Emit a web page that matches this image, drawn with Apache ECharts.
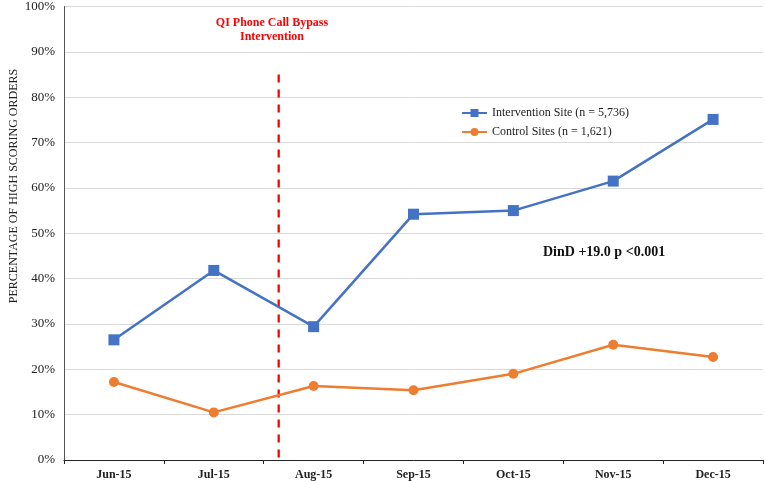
<!DOCTYPE html>
<html>
<head>
<meta charset="utf-8">
<script src="https://cdn.jsdelivr.net/npm/echarts@6/dist/echarts.min.js"></script>
<style>
* { margin: 0; padding: 0; }
html, body { width: 765px; height: 481px; background: #fff; }
#main { width: 765px; height: 481px; }
</style>
</head>
<body>
<div id="main"></div>
<script>
// data
var months = ['Jun-15', 'Jul-15', 'Aug-15', 'Sep-15', 'Oct-15', 'Nov-15', 'Dec-15'];
var interventionSite = [26.5, 41.8, 29.4, 54.2, 55.0, 61.5, 75.1];
var controlSites = [17.2, 10.5, 16.3, 15.4, 19.0, 25.4, 22.7];
var yTicks = [0, 10, 20, 30, 40, 50, 60, 70, 80, 90, 100];
// intervention start, in category units (between Jul and Aug)
var interventionAt = 1.65;
var interventionLineTop = 85;

var serif = '"Liberation Serif", "Times New Roman", serif';
var chart = echarts.init(document.getElementById('main'));

chart.setOption({
  animation: false,
  textStyle: { fontFamily: serif },
  grid: { left: 64, right: 2, top: 5, bottom: 21 },
  legend: {
    orient: 'vertical',
    left: 456,
    top: 102,
    itemGap: 7,
    itemWidth: 25,
    itemHeight: 10,
    textStyle: { fontFamily: serif, fontSize: 12, color: '#222' },
    data: ['Intervention Site (n = 5,736)', 'Control Sites (n = 1,621)']
  },
  xAxis: [{
    type: 'category',
    data: months,
    boundaryGap: true,
    axisLine: { lineStyle: { color: '#222', width: 1 } },
    axisTick: { show: true, length: 4, lineStyle: { color: '#222' } },
    axisLabel: { color: '#222', fontSize: 12, fontWeight: 'bold', fontFamily: serif, margin: 9 }
  }, {
    type: 'value',
    min: -0.5,
    max: months.length - 0.5,
    show: false
  }],
  yAxis: {
    type: 'value',
    min: yTicks[0],
    max: yTicks[yTicks.length - 1],
    interval: 10,
    axisLine: { show: true, onZero: false, lineStyle: { color: '#555', width: 1 } },
    axisTick: { show: false },
    axisLabel: { formatter: '{value}%', color: '#222', fontSize: 13, fontFamily: serif, margin: 9 },
    splitLine: { lineStyle: { color: '#d9d9d9', width: 1 } }
  },
  series: [{
    name: 'Intervention Site (n = 5,736)',
    type: 'line',
    data: interventionSite,
    symbol: 'rect',
    symbolSize: 11,
    lineStyle: { color: '#4472C4', width: 2.5 },
    itemStyle: { color: '#4472C4' },
    z: 3
  }, {
    name: 'Control Sites (n = 1,621)',
    type: 'line',
    data: controlSites,
    symbol: 'circle',
    symbolSize: 10,
    lineStyle: { color: '#ED7D31', width: 2.5 },
    itemStyle: { color: '#ED7D31' },
    z: 3
  }, {
    name: 'intervention',
    type: 'line',
    xAxisIndex: 1,
    data: [[interventionAt, interventionLineTop], [interventionAt, 0]],
    symbol: 'none',
    lineStyle: { color: '#FF0000', width: 2.3, type: [8, 7] },
    z: 2
  }],
  graphic: [{
    type: 'text',
    x: 272,
    y: 16,
    style: {
      text: 'QI Phone Call Bypass\nIntervention',
      align: 'center',
      fill: '#FF0000',
      font: 'bold 12px ' + serif,
      lineHeight: 14
    }
  }, {
    type: 'text',
    x: 543,
    y: 245,
    style: {
      text: 'DinD +19.0 p <0.001',
      fill: '#111',
      font: 'bold 14px ' + serif
    }
  }, {
    type: 'text',
    x: 14,
    y: 186,
    rotation: Math.PI / 2,
    style: {
      text: 'PERCENTAGE OF HIGH SCORING ORDERS',
      align: 'center',
      verticalAlign: 'middle',
      fill: '#222',
      font: '12px ' + serif
    }
  }]
});
</script>
</body>
</html>
